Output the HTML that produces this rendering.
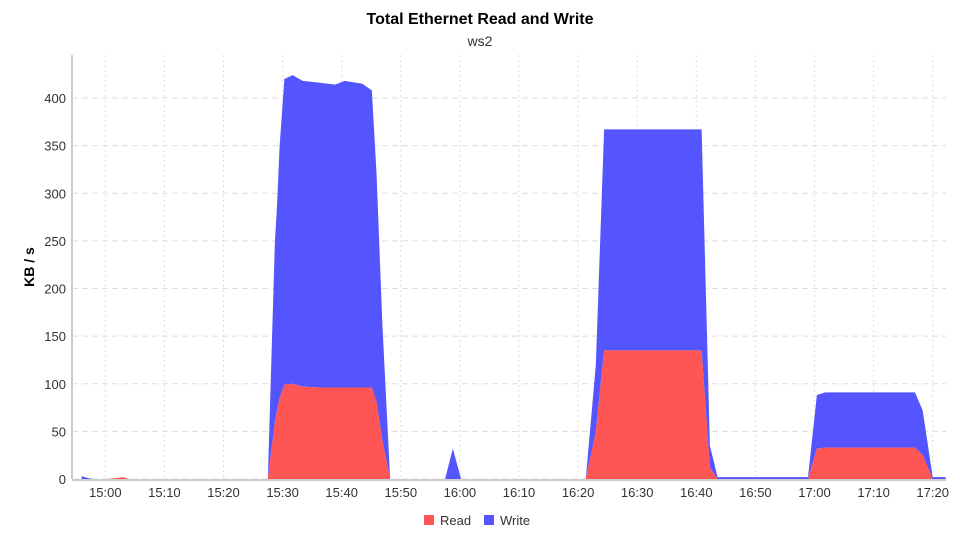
<!DOCTYPE html>
<html><head><meta charset="utf-8"><style>
body{margin:0;background:#fff;font-family:"Liberation Sans",sans-serif}
svg text{font-family:"Liberation Sans",sans-serif}
</style></head><body>
<svg id="c" width="960" height="540" xmlns="http://www.w3.org/2000/svg">
<text x="480" y="24" text-anchor="middle" font-size="16" font-weight="bold" fill="#000">Total Ethernet Read and Write</text>
<text x="480" y="46" text-anchor="middle" font-size="14" fill="#333">ws2</text>
<text transform="translate(34,267) rotate(-90)" text-anchor="middle" font-size="14" font-weight="bold" fill="#000">KB / s</text>
<g id="grid"></g><g id="areas"></g><g id="axes"></g>
<g>
<g><rect x="424" y="515" width="10" height="10" fill="#ff5555"/><text x="440" y="525" font-size="13" fill="#333">Read</text></g>
<g><rect x="484" y="515" width="10" height="10" fill="#5555ff"/><text x="500" y="525" font-size="13" fill="#333">Write</text></g>
</g>
</svg>
<script>
const times=[-4,-3,-2,0,2,3,4,6,20,27.5,28.7,29,29.5,30.3,31.7,33.4,36.3,38.9,40.5,43.5,45.1,45.9,46.9,48.2,57.5,58.8,60.2,81.3,83,84.4,90,95,100.9,102.3,103.6,110,118.9,120.4,121.8,130,137,138.3,140,142.2];
const readVals=[0,0,0,0,1,2,0,0,0,0,60,70,85,99,100,97,96,96,96,96,96,80,40,0,0,0,0,0,50,135,135,135,135,12,0,0,0,32,33,33,33,25,0,0];
const totalVals=[3,1,0,0,1,2,0,0,0,0,250,280,350,420,424,418,416,414,418,415,408,320,160,0,0,32,0,0,120,367,367,367,367,35,2,2,2,88,91,91,91,72,2,2];
const writeVals=totalVals.map((t,i)=>t-readVals[i]);
const yTicks=[0,50,100,150,200,250,300,350,400];
const xTickMins=[0,10,20,30,40,50,60,70,80,90,100,110,120,130,140];
const xTickLabels=["15:00","15:10","15:20","15:30","15:40","15:50","16:00","16:10","16:20","16:30","16:40","16:50","17:00","17:10","17:20"];
const L=72,R=946,T=55,B=479;
const X=t=>105.3+t*5.91, Y=v=>B-v*0.9525;
const NS="http://www.w3.org/2000/svg";
function mk(tag,attrs,parent){const e=document.createElementNS(NS,tag);for(const k in attrs)e.setAttribute(k,attrs[k]);parent.appendChild(e);return e;}
const grid=document.getElementById('grid'),areas=document.getElementById('areas'),axes=document.getElementById('axes');
yTicks.forEach(v=>{
  const l=mk('line',{x1:L,x2:R,y1:Y(v),y2:Y(v),stroke:'#ddd','stroke-dasharray':'6,4'},grid);
  
  
  const t=mk('text',{x:L-6,y:Y(v)+5,'text-anchor':'end','font-size':13,fill:'#333'},axes);
  t.textContent=v;
  
  
});
xTickMins.forEach((m,i)=>{
  const l=mk('line',{x1:X(m),x2:X(m),y1:T,y2:B,stroke:'#ddd','stroke-dasharray':'2,3'},grid);
  
  
  const t=mk('text',{x:X(m),y:B+18,'text-anchor':'middle','font-size':13,fill:'#333'},axes);
  t.textContent=xTickLabels[i];
  
  
});
function area(top,bot,fill,name){
  let d='M'+times.map((t,i)=>X(t)+','+Y(top[i])).join(' L');
  for(let i=times.length-1;i>=0;i--)d+=' L'+X(times[i])+','+Y(bot[i]);
  const p=mk('path',{d:d+'Z',fill:fill},areas);
  
  
}
area(totalVals,readVals,'#5555ff','write-area');
area(readVals,readVals.map(()=>0),'#ff5555','read-area');
const ax=mk('line',{x1:L,x2:L,y1:T,y2:B,stroke:'#ccc','stroke-width':2},axes);


const bx=mk('line',{x1:L,x2:R,y1:B+1,y2:B+1,stroke:'#ccc','stroke-width':2},axes);


</script>
</body></html>
